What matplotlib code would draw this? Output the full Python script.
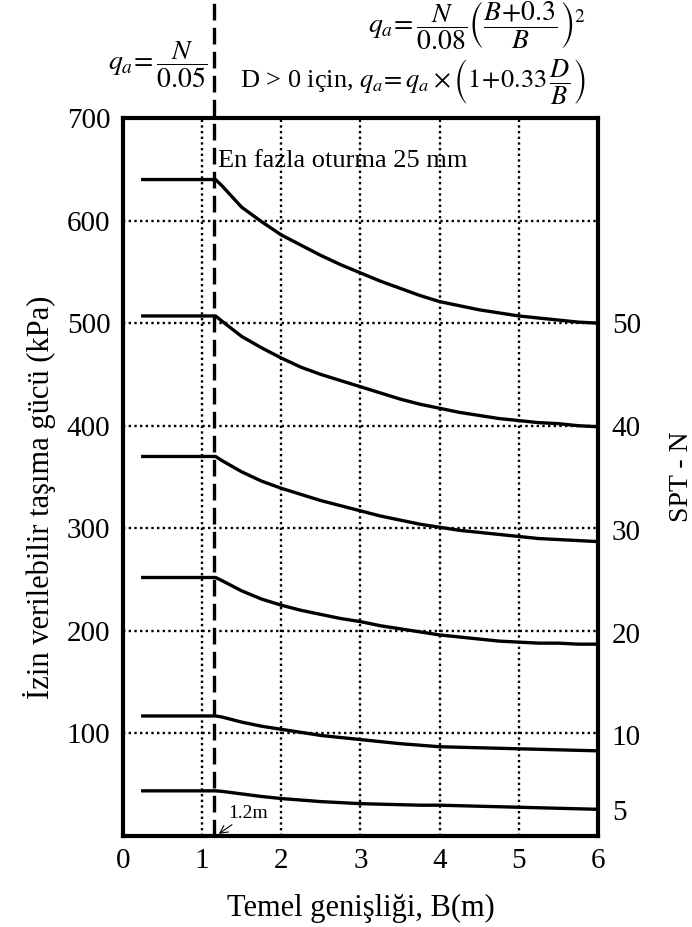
import matplotlib
matplotlib.use("Agg")
import matplotlib.pyplot as plt

plt.rcParams['font.family'] = ['Liberation Serif', 'DejaVu Serif']
plt.rcParams['mathtext.fontset'] = 'stix'

# ---- data ----
B = [0.25, 1.17, 1.25, 1.5, 1.75, 2.0, 2.25, 2.5, 2.75, 3.0, 3.25, 3.5,
     3.75, 4.0, 4.25, 4.5, 4.75, 5.0, 5.25, 5.5, 5.75, 6.0]
q_N50 = [640, 640, 634, 613, 599, 586, 576, 566, 557, 549, 541, 534,
         527, 521, 517, 513, 510, 507, 505, 503, 501, 500]
q_N40 = [507, 507, 502, 487, 476, 466, 457, 450, 444, 438, 432, 426,
         421, 417, 413, 410, 407, 405, 403, 402, 400, 399]
q_N30 = [370, 370, 366, 355, 346, 339, 333, 327, 322, 317, 312, 308,
         304, 301, 298, 296, 294, 292, 290, 289, 288, 287]
q_N20 = [252, 252, 249, 239, 231, 225, 220, 216, 212, 209, 205, 202,
         199, 196, 194, 192, 190, 189, 188, 188, 187, 187]
q_N10 = [117, 117, 116, 111, 107, 104, 101, 98, 96, 94, 92, 90,
         88.5, 87, 86.5, 86, 85.5, 85, 84.5, 84, 83.5, 83]
q_N5 = [44, 44, 43.5, 41, 38.5, 36.5, 35, 33.5, 32.5, 31.5, 31, 30.5,
        30, 30, 29.5, 29, 28.5, 28, 27.5, 27, 26.5, 26]
series = [q_N50, q_N40, q_N30, q_N20, q_N10, q_N5]

spt_labels = ['50', '40', '30', '20', '10', '5']
spt_label_pos = [500, 400, 298, 198, 98, 25]

x_ticks = [0, 1, 2, 3, 4, 5, 6]
y_ticks = [100, 200, 300, 400, 500, 600, 700]
B_limit = 1.15

fig = plt.figure(figsize=(6.92, 9.27), dpi=100)
ax = fig.add_axes([0.1777, 0.0982, 0.6863, 0.7745])

# grid (dotted)
for xv in [1, 2, 3, 4, 5]:
    ax.plot([xv, xv], [0, 700], color='black', lw=1.7, ls=(0, (1, 1.4)), zorder=1)
for yv in [100, 200, 300, 400, 500, 600]:
    ax.plot([0, 6], [yv, yv], color='black', lw=1.7, ls=(0, (1, 1.4)), zorder=1)

for s in series:
    ax.plot(B, s, color='black', lw=2.4, solid_joinstyle='round', zorder=3)

# dashed limit line extending above plot
ax.plot([B_limit, B_limit], [0, 812], color='black', lw=2.4, ls=(0, (5, 2.2)),
        clip_on=False, zorder=4)

ax.set_xlim(0, 6)
ax.set_ylim(0, 700)
ax.set_xticks(x_ticks)
ax.set_yticks(y_ticks)
ax.tick_params(length=0, labelsize=21, pad=9)
for sp in ax.spines.values():
    sp.set_linewidth(3)

ax.set_xlabel('Temel genişliği, B(m)', fontsize=22, labelpad=14)
ax.set_ylabel('İzin verilebilir taşıma gücü (kPa)', fontsize=22, labelpad=10)
ax.yaxis.set_label_coords(-0.14, 0.472)

ax2 = ax.twinx()
ax2.set_ylim(0, 700)
ax2.set_yticks(spt_label_pos)
ax2.set_yticklabels(spt_labels)
ax2.tick_params(length=0, labelsize=21, pad=10)
for sp in ax2.spines.values():
    sp.set_visible(False)
ax2.set_ylabel('SPT - N', fontsize=20, labelpad=20)

ax.text(1.2, 658, 'En fazla oturma 25 mm', fontsize=19, ha='left', va='center', zorder=5)

ax.annotate('1.2m', xy=(1.21, 2), xytext=(1.33, 22), fontsize=14,
            ha='left', va='center',
            arrowprops=dict(arrowstyle='->', color='black', lw=0.8,
                            shrinkA=0, shrinkB=0))

fig.text(0.227, 0.930, r'$q_a\!=\dfrac{N}{0.05}$', fontsize=20, ha='center', va='center')
fig.text(0.69, 0.972, r'$q_a\!=\dfrac{N}{0.08}\left(\dfrac{B\!+\!0.3}{B}\right)^{2}$',
         fontsize=20, ha='center', va='center')
fig.text(0.597, 0.912, r'D > 0 için, $q_a\!=q_a\times\left(1\!+\!0.33\,\dfrac{D}{B}\right)$',
         fontsize=19, ha='center', va='center')

fig.savefig('out.png', dpi=100)
